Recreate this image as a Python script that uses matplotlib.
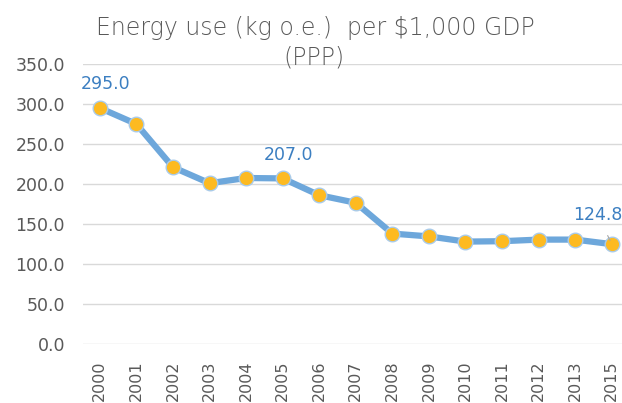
import matplotlib
matplotlib.use('Agg')
import matplotlib.pyplot as plt

# данные
years = ['2000', '2001', '2002', '2003', '2004', '2005', '2006', '2007',
         '2008', '2009', '2010', '2011', '2012', '2013', '2015']
values = [295.0, 275.0, 221.0, 201.0, 207.5, 207.0, 186.0, 176.5,
          138.0, 134.5, 128.0, 128.5, 130.5, 130.5, 124.8]
labeled = {0: '295.0', 5: '207.0', 14: '124.8'}
yticks = [0, 50, 100, 150, 200, 250, 300, 350]

GRAY = '#595959'
LINE = '#6DA7DB'
GOLD = '#FDBA21'
LBL = '#3C7FC1'

fig = plt.figure(figsize=(6.22, 4.03), dpi=100)
ax = fig.add_axes([83 / 622, 59 / 403, 539 / 622, 280 / 403])

x = list(range(len(years)))
ax.plot(x, values, color=LINE, lw=4.5, solid_capstyle='round', zorder=3)
ax.plot(x, values, ls='none', marker='o', ms=10.5, mfc=GOLD,
        mec='#A9CBEA', mew=1.0, zorder=4)

ax.set_xlim(-0.46, 14.28)
ax.set_ylim(0, 350)
ax.set_yticks(yticks)
ax.set_yticklabels(['%.1f' % v for v in yticks])
ax.set_xticks(x)
ax.set_xticklabels(years, rotation=90)
ax.tick_params(length=0, colors=GRAY, labelsize=12.5)
ax.tick_params(axis='y', pad=13)
ax.tick_params(axis='x', pad=12, labelsize=11.5)
ax.grid(axis='y', color='#D9D9D9', lw=1)
ax.set_axisbelow(True)
for s in ax.spines.values():
    s.set_visible(False)

# подписи значений
for i, txt in labeled.items():
    if i == 14:
        ax.annotate(txt, (i, values[i]), xytext=(-10, 21), textcoords='offset points',
                    ha='center', va='center', color=LBL, fontsize=12.5,
                    arrowprops=dict(arrowstyle='-', color='#A6A6A6', lw=0.8,
                                    shrinkA=7, shrinkB=3), zorder=5)
    else:
        ax.annotate(txt, (i, values[i]), xytext=(4, 17), textcoords='offset points',
                    ha='center', va='center', color=LBL, fontsize=12.5, zorder=5)

# заголовок
fig.text(315 / 622, 1 - 28 / 403, 'Energy use (kg o.e.)  per $1,000 GDP',
         ha='center', va='center', fontsize=17, color=GRAY,
         fontweight='light')
fig.text(314 / 622, 1 - 58 / 403, '(PPP)',
         ha='center', va='center', fontsize=17, color=GRAY,
         fontweight='light')

fig.savefig('out.png', dpi=100)
